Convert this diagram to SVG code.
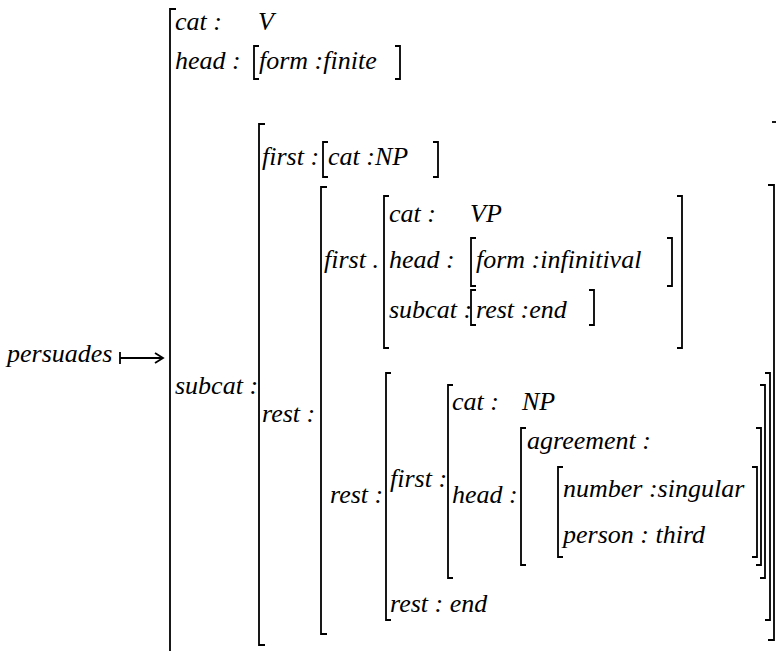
<svg xmlns="http://www.w3.org/2000/svg" width="776" height="651" viewBox="0 0 776 651">
<style>
.b{fill:none;stroke:#000;stroke-width:1.8}
</style>
<rect width="776" height="651" fill="#fff"/>
<g font-family="Liberation Serif, Times New Roman, serif" font-style="italic" font-size="26" fill="#000">
<g id="outer">
<path class="b" d="M176,9 H170 V660"/>
<text x="175" y="30">cat :</text><text x="258" y="30">V</text>
<text x="175" y="69">head :</text>
<path class="b" d="M259,46 H254 V79 H259"/>
<text x="259" y="69">form :finite</text>
<path class="b" d="M395,46 H400 V79 H395"/>
<text x="175" y="394">subcat :</text>
</g>
<g id="subcat">
<path class="b" d="M265,124 H259 V645 H265"/>
<path class="b" d="M772,122 H778"/>
<text x="262" y="165">first :</text>
<path class="b" d="M328,142 H323 V177 H328"/>
<text x="328" y="165">cat :NP</text>
<path class="b" d="M433,142 H438 V177 H433"/>
<text x="262" y="422">rest :</text>
</g>
<g id="rest2">
<path class="b" d="M327,187 H321 V634 H327"/>
<path class="b" d="M768,185 H774 V640 H768"/>
<text x="324" y="268">first .</text>
<path class="b" d="M389,196 H384 V348 H389"/>
<path class="b" d="M677,196 H682 V348 H677"/>
<text x="389" y="222">cat :</text><text x="470" y="222">VP</text>
<text x="389" y="268">head :</text>
<path class="b" d="M476,238 H471 V286 H476"/>
<text x="476" y="268">form :infinitival</text>
<path class="b" d="M667,238 H672 V286 H667"/>
<text x="389" y="318">subcat :</text>
<path class="b" d="M476,290 H471 V325 H476"/>
<text x="476" y="318">rest :end</text>
<path class="b" d="M589,290 H594 V325 H589"/>
<text x="330" y="503">rest :</text>
</g>
<g id="rest3">
<path class="b" d="M391,373 H386 V620 H391"/>
<path class="b" d="M765,373 H770 V620 H765"/>
<text x="390" y="487">first :</text>
<path class="b" d="M453,385 H448 V578 H453"/>
<path class="b" d="M760,385 H765 V578 H760"/>
<text x="452" y="410">cat :</text><text x="522" y="410">NP</text>
<text x="452" y="503">head :</text>
<path class="b" d="M526,428 H521 V565 H526"/>
<path class="b" d="M756,428 H761 V565 H756"/>
<text x="527" y="449">agreement :</text>
<path class="b" d="M563,467 H558 V557 H563"/>
<path class="b" d="M752,467 H757 V557 H752"/>
<text x="563" y="497">number :singular</text>
<text x="563" y="543">person :  third</text>
<text x="390" y="612">rest : end</text>
</g>
<g id="lhs">
<text x="7" y="362">persuades</text>
<path class="b" d="M120,352 V364 M120,358 H162 M155,353 L163,358 L155,363"/>
</g>
</g>
</svg>
